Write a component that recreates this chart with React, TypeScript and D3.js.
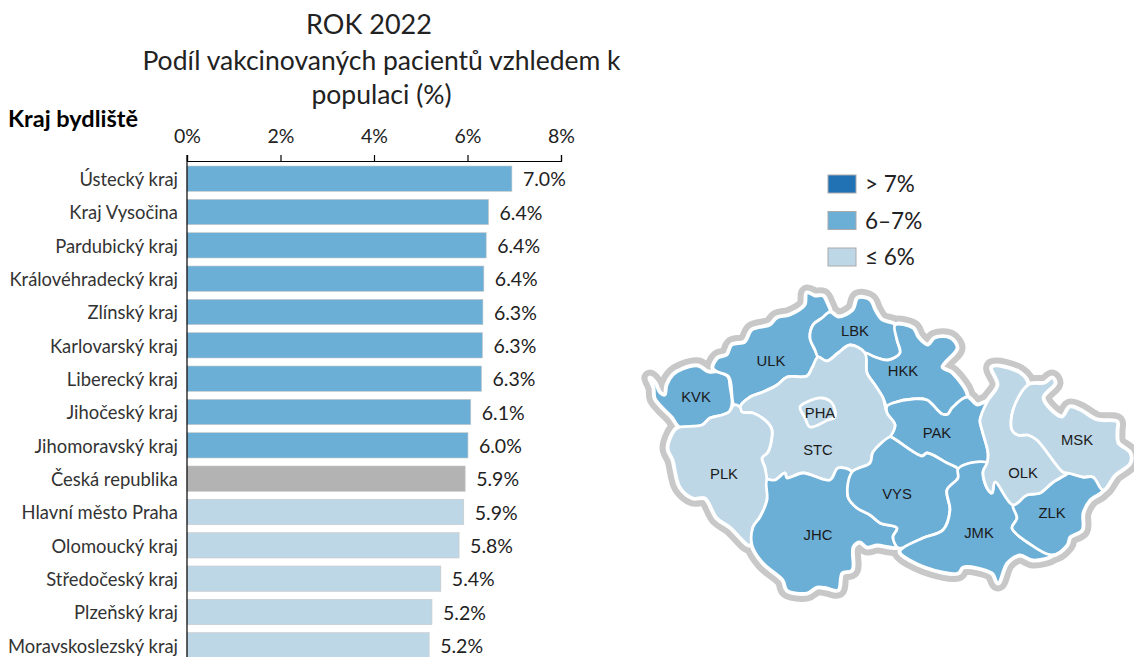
import React, { useEffect, useRef } from "react";
import * as d3 from "d3";

const categories = [
  "Ústecký kraj",
  "Kraj Vysočina",
  "Pardubický kraj",
  "Královéhradecký kraj",
  "Zlínský kraj",
  "Karlovarský kraj",
  "Liberecký kraj",
  "Jihočeský kraj",
  "Jihomoravský kraj",
  "Česká republika",
  "Hlavní město Praha",
  "Olomoucký kraj",
  "Středočeský kraj",
  "Plzeňský kraj",
  "Moravskoslezský kraj",
];
const values = [6.95, 6.45, 6.4, 6.35, 6.33, 6.32, 6.3, 6.07, 6.01, 5.95, 5.92, 5.82, 5.43, 5.24, 5.18];
const valueLabels = ["7.0%", "6.4%", "6.4%", "6.4%", "6.3%", "6.3%", "6.3%", "6.1%", "6.0%", "5.9%", "5.9%", "5.8%", "5.4%", "5.2%", "5.2%"];
const xTicks = [0, 2, 4, 6, 8];

const legendLabels = ["> 7%", "6–7%", "≤ 6%"];

// region outlines
type Pt = [number, number];
const mapRegions: { code: string; mid: boolean; at: Pt; ring: Pt[] }[] = [
  { code: "KVK", mid: true, at: [696, 397], ring: [[650,378],[655,383],[660,393],[665,395],[667,385],[673,375],[683,369],[698,366],[708,372],[718,372],[728,377],[730,387],[732,403],[729,412],[722,415],[710,418],[702,425],[680,427],[672,417],[662,407],[655,398],[654,388]] },
  { code: "ULK", mid: true, at: [771, 361], ring: [[713,368],[718,358],[727,355],[732,345],[745,342],[752,330],[770,325],[777,318],[790,315],[805,305],[807,293],[815,296],[823,296],[827,303],[830,312],[822,318],[813,325],[810,338],[815,350],[818,357],[812,368],[807,376],[787,377],[777,385],[763,392],[750,397],[740,407],[734,405],[729,377],[718,372]] },
  { code: "LBK", mid: true, at: [855, 331], ring: [[830,312],[838,317],[853,310],[858,298],[870,300],[875,310],[882,320],[895,325],[897,340],[900,353],[888,360],[875,357],[865,353],[850,345],[838,353],[827,361],[818,357],[815,350],[810,338],[813,325],[822,318]] },
  { code: "HKK", mid: true, at: [903, 371], ring: [[895,325],[913,328],[918,337],[928,345],[935,338],[950,338],[957,348],[942,367],[952,373],[967,397],[952,408],[948,414],[942,414],[927,400],[913,399],[893,403],[887,406],[883,398],[875,385],[867,373],[866,360],[865,353],[875,357],[888,360],[900,353],[897,340]] },
  { code: "PAK", mid: true, at: [937, 433], ring: [[887,406],[893,403],[913,399],[927,400],[942,414],[948,414],[952,408],[967,397],[977,405],[987,402],[980,420],[982,430],[988,453],[987,463],[970,463],[958,469],[947,463],[927,453],[922,456],[893,438],[890,437],[895,425],[887,413]] },
  { code: "STC", mid: false, at: [818, 450], ring: [[740,407],[750,397],[763,392],[777,385],[787,377],[807,376],[812,368],[818,357],[827,361],[838,353],[850,345],[865,353],[867,373],[875,385],[883,398],[887,413],[895,425],[890,437],[873,452],[870,463],[852,472],[838,468],[830,480],[803,473],[787,478],[785,473],[775,480],[767,480],[765,468],[762,458],[768,452],[772,430],[768,423],[753,413],[742,412]] },
  { code: "PLK", mid: false, at: [724, 474], ring: [[675,430],[680,427],[702,425],[710,418],[722,415],[729,412],[734,405],[740,407],[742,412],[753,413],[768,423],[772,430],[768,452],[762,458],[765,468],[767,480],[767,500],[760,517],[753,527],[750,545],[730,527],[717,518],[705,498],[693,498],[680,487],[673,460],[668,448]] },
  { code: "JHC", mid: true, at: [818, 535], ring: [[767,480],[775,480],[785,473],[787,478],[803,473],[830,480],[838,468],[852,472],[848,497],[857,508],[870,515],[880,523],[897,528],[893,537],[897,547],[890,547],[877,545],[867,547],[860,542],[853,547],[852,570],[842,573],[838,590],[827,588],[817,587],[807,593],[787,590],[783,580],[763,563],[752,545],[753,527],[760,517],[767,500]] },
  { code: "VYS", mid: true, at: [897, 494], ring: [[852,472],[870,463],[873,452],[890,437],[893,438],[922,456],[927,453],[947,463],[958,469],[958,478],[947,490],[950,510],[943,530],[923,538],[903,548],[897,547],[893,537],[897,528],[880,523],[870,515],[857,508],[848,497]] },
  { code: "JMK", mid: true, at: [979, 533], ring: [[958,469],[970,463],[987,463],[983,472],[987,488],[992,493],[995,482],[1013,505],[1017,518],[1012,528],[1027,542],[1052,555],[1033,560],[1020,555],[1007,563],[998,583],[992,573],[963,567],[958,573],[925,567],[900,552],[903,548],[923,538],[943,530],[950,510],[947,490],[958,478]] },
  { code: "ZLK", mid: true, at: [1052, 513], ring: [[1013,505],[1027,495],[1040,493],[1052,483],[1060,478],[1068,473],[1083,477],[1093,477],[1103,490],[1090,500],[1083,513],[1082,530],[1070,537],[1067,545],[1052,555],[1027,542],[1012,528],[1017,518]] },
  { code: "OLK", mid: false, at: [1023, 473], ring: [[992,367],[1020,373],[1028,385],[1013,410],[1012,430],[1018,435],[1028,435],[1037,440],[1063,472],[1068,473],[1060,478],[1052,483],[1040,493],[1027,495],[1013,505],[995,482],[992,493],[987,488],[983,472],[987,463],[988,453],[982,430],[980,420],[987,402],[998,385]] },
  { code: "MSK", mid: false, at: [1077, 440], ring: [[1028,385],[1045,383],[1052,378],[1055,383],[1043,398],[1062,417],[1070,407],[1080,410],[1097,420],[1117,422],[1117,430],[1118,443],[1130,453],[1130,463],[1115,475],[1103,490],[1093,477],[1083,477],[1068,473],[1063,472],[1037,440],[1028,435],[1018,435],[1012,430],[1013,410]] },
];
const prague: { code: string; at: Pt; ring: Pt[] } = {
  code: "PHA",
  at: [820, 413],
  ring: [[800,407],[807,402],[822,398],[832,403],[835,417],[828,420],[810,427],[805,418]],
};

const BLUE = "#6baed6";
const LIGHT = "#bdd7e7";
const DARK = "#2171b5";
const GREY = "#b3b3b3";
const HALO = "#c8c8c8";
const FONT = "Lato, sans-serif";
const MAP_FONT = "'Liberation Sans', Arial, sans-serif";

export default function App() {
  const axisRef = useRef<SVGGElement>(null);

  const x = d3.scaleLinear().domain([0, 8]).range([187, 561]);
  const y = d3.scaleBand().domain(categories).range([162, 662]).paddingInner(0.24).paddingOuter(0.12);
  const outline = d3.line().curve(d3.curveCatmullRomClosed.alpha(0.5));

  useEffect(() => {
    const g = d3.select(axisRef.current);
    g.selectAll("*").remove();
    g.call(
      d3.axisTop(x).tickValues(xTicks).tickSize(6).tickPadding(12).tickFormat((d) => `${d}%`) as any
    );
    g.selectAll("path").attr("stroke", "#000").attr("stroke-width", 1.2);
    g.selectAll("line").attr("stroke", "#000").attr("stroke-width", 1.2);
    g.selectAll("text")
      .attr("font-family", FONT)
      .attr("font-size", 19.5)
      .attr("fill", "#222");
  }, []);

  return (
    <svg
      width={1134}
      height={657}
      style={{ position: "absolute", left: 0, top: 0, background: "#fff" }}
    >
      {/* titles */}
      <g fontFamily={FONT} fill="#222" textAnchor="middle">
        <text x={369} y={34} fontSize={27}>ROK 2022</text>
        <text x={381.5} y={70} fontSize={26.5}>Podíl vakcinovaných pacientů vzhledem k</text>
        <text x={381.5} y={104} fontSize={26.5}>populaci (%)</text>
      </g>
      <text x={8} y={127} fontFamily={FONT} fontSize={23.5} fontWeight={700} fill="#000">Kraj bydliště</text>

      {/* bars */}
      {categories.map((c, i) => (
        <g key={c}>
          <rect
            x={x(0)}
            y={y(c)}
            width={x(values[i]) - x(0)}
            height={y.bandwidth()}
            fill={c === "Česká republika" ? GREY : values[i] > 6 ? BLUE : LIGHT}
            stroke="#c8c8c8"
            strokeWidth={0.6}
          />
          <text
            x={x(0) - 9}
            y={y(c)! + y.bandwidth() / 2 + 1}
            dy="0.35em"
            textAnchor="end"
            fontFamily={FONT}
            fontSize={18.4}
            fill="#333"
          >
            {c}
          </text>
          <text
            x={x(values[i]) + 11}
            y={y(c)! + y.bandwidth() / 2 + 1}
            dy="0.35em"
            fontFamily={FONT}
            fontSize={19.5}
            fill="#222"
          >
            {valueLabels[i]}
          </text>
        </g>
      ))}
      <g ref={axisRef} transform="translate(0,161)" />
      <line x1={187} x2={187} y1={155} y2={657} stroke="#000" strokeWidth={1.2} />

      {/* legend */}
      {legendLabels.map((l, i) => (
        <g key={l} transform={`translate(828,${175 + i * 36.5})`}>
          <rect width={28} height={18} fill={[DARK, BLUE, LIGHT][i]} stroke="#aaa" strokeWidth={1} />
          <text x={37} y={17} fontFamily={FONT} fontSize={22.5} fill="#222">{l}</text>
        </g>
      ))}

      {/* map: grey halo, white margin, then fills with white borders */}
      <g strokeLinejoin="round">
        {mapRegions.map((r) => (
          <path key={r.code} d={outline(r.ring)!} fill={HALO} stroke={HALO} strokeWidth={17} />
        ))}
        {mapRegions.map((r) => (
          <path key={r.code} d={outline(r.ring)!} fill="#fff" stroke="#fff" strokeWidth={5} />
        ))}
        {mapRegions.map((r) => (
          <path key={r.code} d={outline(r.ring)!} fill={r.mid ? BLUE : LIGHT} stroke="#fff" strokeWidth={2.8} />
        ))}
        <path d={outline(prague.ring)!} fill={LIGHT} stroke="#fff" strokeWidth={2.8} />
      </g>
      <g fontFamily={MAP_FONT} fontSize={14.8} fill="#1a1a1a" textAnchor="middle">
        {[...mapRegions, prague].map((r) => (
          <text key={r.code} x={r.at[0]} y={r.at[1]} dy="0.36em">{r.code}</text>
        ))}
      </g>
    </svg>
  );
}
